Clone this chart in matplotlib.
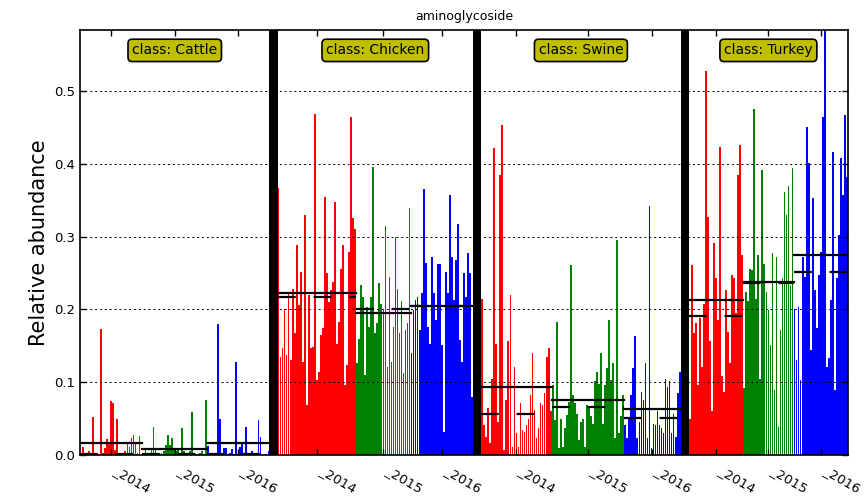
import matplotlib
matplotlib.use("Agg")
import matplotlib.pyplot as plt

classes = ["Cattle", "Chicken", "Swine", "Turkey"]
years = ["2014", "2015", "2016"]
year_colors = ["red", "green", "blue"]

# relative abundance per sample
cattle_2014 = [0.002, 0.011, 0.002, 0.001, 0.005, 0.002, 0.052, 0.002, 0.001, 0.002,
               0.173, 0.003, 0.010, 0.022, 0.016, 0.074, 0.072, 0.007, 0.049, 0.002,
               0.001, 0.002, 0.005, 0.018, 0.011, 0.023, 0.027, 0.016, 0.003, 0.026, 0.002]
cattle_2015 = [0.002, 0.008, 0.001, 0.002, 0.008, 0.038, 0.007, 0.002, 0.002, 0.003,
               0.005, 0.014, 0.027, 0.014, 0.023, 0.007, 0.005, 0.008, 0.002, 0.037,
               0.006, 0.001, 0.002, 0.005, 0.059, 0.002, 0.001, 0.002, 0.003, 0.006,
               0.002, 0.075]
cattle_2016 = [0.012, 0.002, 0.001, 0.002, 0.003, 0.180, 0.050, 0.002, 0.009, 0.009,
               0.002, 0.003, 0.008, 0.001, 0.128, 0.002, 0.011, 0.018, 0.002, 0.039,
               0.002, 0.001, 0.005, 0.002, 0.001, 0.048, 0.025, 0.002, 0.001, 0.002, 0.005]

chicken_2014 = [0.367, 0.135, 0.147, 0.200, 0.137, 0.222, 0.130, 0.228, 0.167, 0.288,
                0.206, 0.252, 0.128, 0.330, 0.069, 0.220, 0.147, 0.148, 0.469, 0.103,
                0.114, 0.165, 0.174, 0.355, 0.250, 0.210, 0.227, 0.238, 0.348, 0.153,
                0.183, 0.256, 0.288, 0.096, 0.124, 0.279, 0.465, 0.325, 0.311]
chicken_2015 = [0.126, 0.160, 0.233, 0.217, 0.110, 0.204, 0.176, 0.217, 0.396, 0.167,
                0.181, 0.237, 0.208, 0.199, 0.314, 0.121, 0.245, 0.128, 0.176, 0.300,
                0.228, 0.167, 0.211, 0.112, 0.172, 0.182, 0.339]
chicken_2016 = [0.140, 0.199, 0.213, 0.217, 0.172, 0.222, 0.365, 0.264, 0.176, 0.153,
                0.272, 0.222, 0.185, 0.263, 0.263, 0.151, 0.032, 0.252, 0.222, 0.357,
                0.272, 0.213, 0.268, 0.317, 0.158, 0.128, 0.250, 0.217, 0.277, 0.250, 0.080]

swine_2014 = [0.214, 0.041, 0.025, 0.064, 0.016, 0.105, 0.422, 0.153, 0.046, 0.385,
              0.453, 0.007, 0.076, 0.156, 0.220, 0.011, 0.121, 0.030, 0.011, 0.071,
              0.034, 0.032, 0.041, 0.050, 0.082, 0.140, 0.062, 0.023, 0.037, 0.071,
              0.069, 0.085, 0.135, 0.147, 0.060]
swine_2015 = [0.096, 0.048, 0.183, 0.009, 0.050, 0.011, 0.037, 0.055, 0.073, 0.261,
              0.082, 0.071, 0.057, 0.021, 0.046, 0.050, 0.011, 0.069, 0.066, 0.053,
              0.043, 0.101, 0.114, 0.098, 0.140, 0.043, 0.096, 0.119, 0.185, 0.103,
              0.126, 0.023, 0.295, 0.030, 0.053, 0.082]
swine_2016 = [0.041, 0.023, 0.050, 0.082, 0.119, 0.163, 0.023, 0.046, 0.087, 0.076,
              0.126, 0.023, 0.342, 0.009, 0.043, 0.041, 0.060, 0.041, 0.037, 0.030,
              0.105, 0.094, 0.101, 0.030, 0.057, 0.025, 0.085, 0.114]

turkey_2014 = [0.050, 0.261, 0.167, 0.181, 0.096, 0.188, 0.121, 0.208, 0.528, 0.327,
               0.156, 0.060, 0.291, 0.243, 0.185, 0.423, 0.108, 0.087, 0.227, 0.169,
               0.126, 0.247, 0.243, 0.195, 0.385, 0.426, 0.275]
turkey_2015 = [0.092, 0.224, 0.211, 0.256, 0.254, 0.476, 0.215, 0.275, 0.105, 0.391,
               0.263, 0.224, 0.199, 0.151, 0.277, 0.089, 0.272, 0.039, 0.172, 0.243,
               0.362, 0.330, 0.369, 0.234, 0.394]
turkey_2016 = [0.201, 0.130, 0.204, 0.103, 0.272, 0.245, 0.451, 0.401, 0.144, 0.353,
               0.227, 0.174, 0.247, 0.279, 0.464, 0.630, 0.121, 0.133, 0.213, 0.417,
               0.089, 0.243, 0.302, 0.408, 0.357, 0.467, 0.382]

samples = {
    "Cattle": [cattle_2014, cattle_2015, cattle_2016],
    "Chicken": [chicken_2014, chicken_2015, chicken_2016],
    "Swine": [swine_2014, swine_2015, swine_2016],
    "Turkey": [turkey_2014, turkey_2015, turkey_2016],
}

# yearly level (solid) and second level (dashed) per class
solid_level = {
    "Cattle": [0.016, 0.008, 0.016],
    "Chicken": [0.223, 0.195, 0.205],
    "Swine": [0.093, 0.0755, 0.0635],
    "Turkey": [0.213, 0.238, 0.275],
}
dashed_level = {
    "Cattle": [0.002, 0.002, 0.002],
    "Chicken": [0.2175, 0.200, 0.205],
    "Swine": [0.057, 0.066, 0.051],
    "Turkey": [0.191, 0.236, 0.252],
}

GAP = 4

fig = plt.figure(figsize=(8.66, 4.96), dpi=100)
ax = fig.add_axes([80 / 866, 1 - 455 / 496, 768 / 866, 425 / 496])

tick_pos = []
tick_lab = []
pos = 0
for ci, cls in enumerate(classes):
    if ci > 0:
        ax.axvspan(pos, pos + GAP, color="k", lw=0)
        pos += GAP
    start = pos
    for yi, vals in enumerate(samples[cls]):
        xs = [pos + i + 0.5 for i in range(len(vals))]
        ax.bar(xs, vals, width=0.85, color=year_colors[yi], lw=0, zorder=1)
        x0, x1 = pos, pos + len(vals)
        ax.plot([x0, x1], [solid_level[cls][yi]] * 2, color="k", lw=1.6, zorder=3)
        ax.plot([x0, x1], [dashed_level[cls][yi]] * 2, color="k", lw=1.6,
                dashes=(8, 8), zorder=3)
        tick_pos.append((x0 + x1) / 2)
        tick_lab.append("_" + years[yi])
        pos = x1
    ax.text((start + pos) / 2, 0.556, "class: " + cls, ha="center", va="center",
            fontsize=10, zorder=5,
            bbox=dict(boxstyle="round,pad=0.3", fc=(0.75, 0.75, 0), ec="k", lw=1.2))

ax.set_xlim(0, pos)
ax.set_ylim(0, 0.584)
ax.set_yticks([0.0, 0.1, 0.2, 0.3, 0.4, 0.5])
ax.set_yticklabels(["0.0", "0.1", "0.2", "0.3", "0.4", "0.5"], fontsize=9.5)
ax.set_xticks(tick_pos)
ax.set_xticklabels(tick_lab, rotation=-30, ha="left", va="top", fontsize=9.5)
ax.tick_params(direction="in", top=True, right=True, length=4, width=1)
ax.tick_params(axis="x", pad=6)
ax.yaxis.grid(True, color="k", lw=0.7, dashes=(2, 3))
ax.set_axisbelow(False)
for sp in ax.spines.values():
    sp.set_linewidth(1.2)

ax.set_ylabel("Relative abundance", fontsize=15)
ax.set_title("aminoglycoside", fontsize=9, pad=7)

fig.savefig("out.png", dpi=100)
